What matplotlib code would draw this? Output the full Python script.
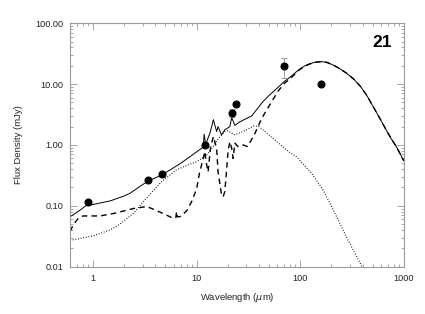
import numpy as np
import matplotlib
matplotlib.use("Agg")
import matplotlib.pyplot as plt
from matplotlib.ticker import LogLocator, FixedLocator, FixedFormatter, NullFormatter

plt.rcParams['font.family'] = ['Liberation Sans', 'DejaVu Sans']

# total model (solid)
total_wl = [0.6, 0.65, 0.75, 0.85, 1.0, 1.46, 2.0, 2.27, 2.8, 3.4, 4.6, 5.7, 6.9, 8.5, 10.0,
            11.1, 11.6, 11.8, 12.2, 12.5, 13.5, 14.5, 15.6, 16.1, 17.4, 18.7, 20.9, 21.8,
            23.4, 26.2, 30.0, 34.0, 38.0, 43.0, 50.0, 61.0, 70.0, 80.0, 98.0, 110.0, 123.0,
            140.0, 160.0, 180.0, 208.0, 240.0, 280.0, 330.0, 383.0, 440.0, 505.0, 590.0,
            675.0, 760.0, 847.0, 920.0, 1000.0]
total_flux = [0.066, 0.072, 0.085, 0.10, 0.105, 0.12, 0.145, 0.16, 0.205, 0.255, 0.32, 0.40, 0.49,
              0.63, 0.77, 0.87, 0.94, 1.5, 1.05, 1.13, 1.6, 2.6, 1.66, 2.0, 1.46, 1.77, 2.0, 2.8,
              2.1, 2.4, 2.7, 3.0, 3.8, 5.0, 6.5, 8.8, 11.0, 13.0, 17.5, 19.8, 21.5,
              22.9, 23.4, 22.8, 20.6, 18.0, 15.1, 12.0, 9.1, 6.5, 4.3, 2.7,
              1.77, 1.25, 0.94, 0.72, 0.55]

# dust component (dashed)
dust_wl = [0.6, 0.65, 0.72, 0.8, 1.17, 1.6, 2.45, 3.3, 4.0, 5.13, 5.95, 6.3, 6.4, 6.5,
           6.9, 8.0, 8.95, 10.0, 10.7, 11.6, 12.0, 12.5, 12.9, 13.6, 14.5, 15.6, 16.1,
           17.4, 18.0, 18.7, 19.4, 20.1, 20.9, 21.8, 22.5, 23.4, 25.0, 28.0, 31.0,
           36.0, 42.3, 51.0, 61.0, 70.0, 80.0, 98.0, 110.0, 123.0, 140.0, 160.0, 180.0,
           208.0, 240.0, 280.0, 330.0, 383.0, 440.0, 505.0, 590.0, 675.0, 760.0, 847.0,
           920.0, 1000.0]
dust_flux = [0.038, 0.05, 0.062, 0.068, 0.068, 0.075, 0.090, 0.097, 0.085, 0.070, 0.062, 0.064,
             0.080, 0.066, 0.066, 0.082, 0.117, 0.19, 0.36, 0.6, 0.78, 0.47, 0.36, 0.9,
             1.37, 0.88, 0.36, 0.15, 0.14, 0.17, 0.36, 0.78, 1.13, 0.88, 0.6, 1.07, 0.94,
             1.0, 0.94, 1.46, 2.7, 4.6, 7.6, 10.2, 12.3, 17.1, 19.5, 21.3, 22.8, 23.4, 22.8,
             20.6, 18.0, 15.1, 12.0, 9.1, 6.5, 4.3, 2.7, 1.77, 1.25, 0.94,
             0.72, 0.55]

# stellar component (dotted)
star_wl = [0.6, 1.0, 1.46, 1.82, 2.45, 3.17, 4.6, 6.4, 8.0, 10.0, 12.5, 14.5, 16.1,
           18.7, 20.0, 23.4, 30.4, 35.5, 40.0, 45.7, 61.7, 77.0, 92.7, 129.0, 167.0,
           209.0, 290.0, 395.0, 430.0]
star_flux = [0.027, 0.032, 0.040, 0.050, 0.075, 0.125, 0.25, 0.39, 0.46, 0.53, 0.68, 0.95, 1.25,
             1.66, 1.7, 1.46, 1.77, 2.05, 2.0, 1.66, 1.07, 0.78, 0.63, 0.34, 0.18,
             0.085, 0.027, 0.010, 0.008]

# observed photometry
obs_wl = [0.9, 3.4, 4.6, 12.0, 22.0, 24.0, 70.0, 160.0]
obs_flux = [0.115, 0.27, 0.33, 1.0, 3.4, 4.7, 19.5, 10.0]
obs_err = [0.01, 0.02, 0.03, 0.08, 0.5, 0.4, 7.0, 0.5]

y_ticks = [0.01, 0.1, 1, 10, 100]
y_labels = ["0.01", "0.10", "1.00", "10.00", "100.00"]
x_ticks = [1, 10, 100, 1000]
x_labels = ["1", "10", "100", "1000"]

fig = plt.figure(figsize=(4.25, 3.14), dpi=100)
ax = fig.add_axes([0.165, 0.151, 0.785, 0.775])

ax.plot(total_wl, total_flux, color="black", lw=0.7)
ax.plot(dust_wl, dust_flux, color="black", lw=1.0, dashes=(4, 3))
ax.plot(star_wl, star_flux, color="black", lw=0.8, dashes=(0.8, 1.6))
ax.errorbar(obs_wl, obs_flux, yerr=obs_err, fmt="o", color="black", ms=4.8,
            ecolor="#999999", elinewidth=0.7, capsize=2, capthick=0.7)

ax.set_xscale("log")
ax.set_yscale("log")
ax.set_xlim(0.6, 1000)
ax.set_ylim(0.01, 100)

ax.xaxis.set_major_locator(FixedLocator(x_ticks))
ax.xaxis.set_major_formatter(FixedFormatter(x_labels))
ax.xaxis.set_minor_locator(LogLocator(base=10, subs=np.arange(2, 10), numticks=20))
ax.xaxis.set_minor_formatter(NullFormatter())
ax.yaxis.set_major_locator(FixedLocator(y_ticks))
ax.yaxis.set_major_formatter(FixedFormatter(y_labels))
ax.yaxis.set_minor_locator(LogLocator(base=10, subs=np.arange(2, 10), numticks=20))
ax.yaxis.set_minor_formatter(NullFormatter())

for s in ax.spines.values():
    s.set_color("#999999")
    s.set_linewidth(0.8)
ax.tick_params(which="both", direction="in", top=True, right=True, color="#999999",
               labelsize=6.6, labelcolor="#222222", width=0.6)
ax.tick_params(which="major", length=5, pad=5)
ax.tick_params(which="minor", length=2.5)

ax.set_xlabel("Wavelength ($\\mu$m)", fontsize=6.8, color="#222222", labelpad=6)
ax.set_ylabel("Flux Density (mJy)", fontsize=6.8, color="#222222", labelpad=9)

ax.text(0.964, 0.919, "21", transform=ax.transAxes, ha="right", va="center",
        fontsize=12.5, fontweight="bold", color="black")

fig.savefig("out.png", dpi=100)
